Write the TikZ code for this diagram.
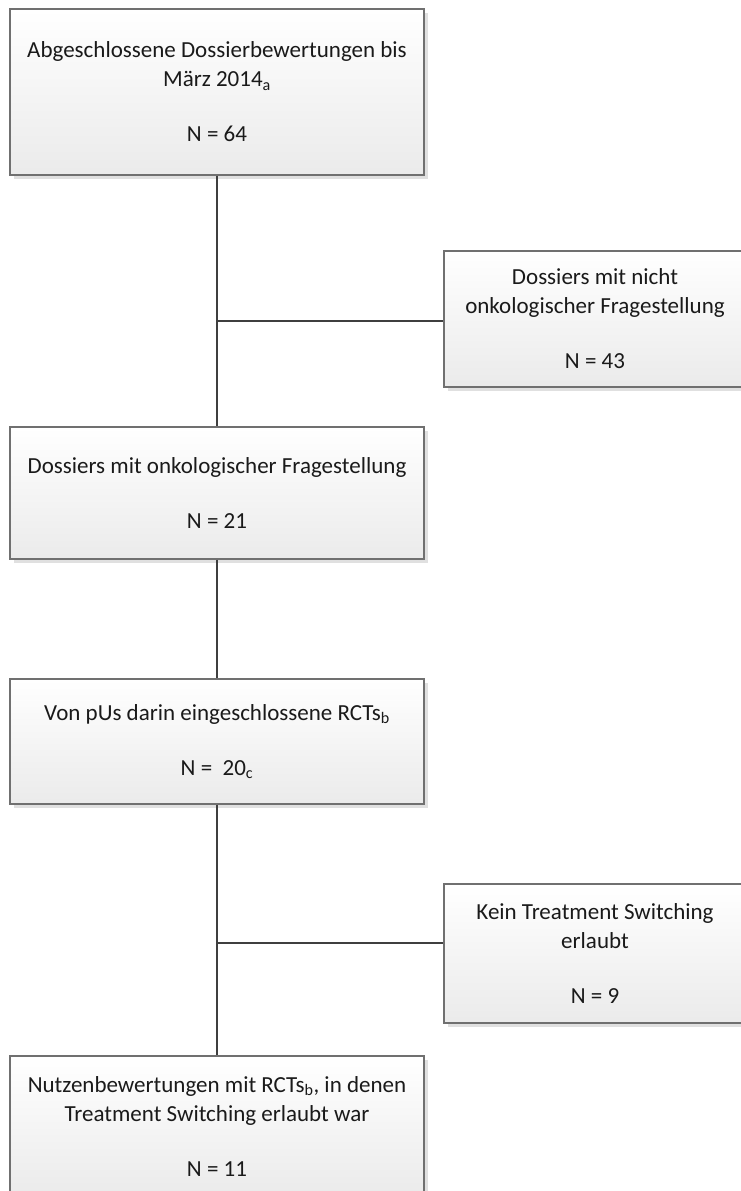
\documentclass[tikz,border=0pt]{standalone}
\usepackage{fontspec}
\setmainfont{Carlito}
\usetikzlibrary{shadows}
\definecolor{boxborder}{HTML}{707070}
\definecolor{linecol}{HTML}{3F3F3F}
\definecolor{txtcol}{HTML}{1A1A1A}
\tikzset{
  flowbox/.style={draw=boxborder, line width=1.3bp, top color=white, bottom color=black!8,
    drop shadow={shadow xshift=4bp, shadow yshift=-4bp, fill=black!12, opacity=1},
    align=center, inner sep=0pt, text=txtcol,
    font=\fontsize{23bp}{29bp}\selectfont},
  wide/.style={minimum width=414bp},
  side/.style={minimum width=302bp},
  conn/.style={draw=linecol, line width=2bp}
}
\begin{document}
\begin{tikzpicture}[x=1bp,y=-1bp]
\useasboundingbox (0,0) rectangle (741,1191);
\node[flowbox, wide, minimum height=166bp] (b1) at (217,92)
  {Abgeschlossene Dossierbewertungen bis\\März 2014\textsubscript{a}\\[26bp]N = 64};
\node[flowbox, side, minimum height=136bp] (b2) at (595,319)
  {Dossiers mit nicht\\onkologischer Fragestellung\\[26bp]N = 43};
\node[flowbox, wide, minimum height=132bp] (b3) at (217,493)
  {Dossiers mit onkologischer Fragestellung\\[26bp]N = 21};
\node[flowbox, wide, minimum height=125bp] (b4) at (217,741.5)
  {Von pUs darin eingeschlossene RCTs\textsubscript{b}\\[26bp]N = \ 20\textsubscript{c}};
\node[flowbox, side, minimum height=139bp] (b5) at (595,953.5)
  {Kein Treatment Switching\\erlaubt\\[26bp]N = 9};
\node[flowbox, wide, minimum height=140bp] (b6) at (217,1126)
  {Nutzenbewertungen mit RCTs\textsubscript{b}, in denen\\Treatment Switching erlaubt war\\[26bp]N = 11};
\draw[conn] (b1.south) -- (b3.north);
\draw[conn] (b3.south) -- (b4.north);
\draw[conn] (b4.south) -- (b6.north);
\coordinate (j1) at ([yshift=-2bp]b2.west -| b1.south);
\coordinate (k1) at ([yshift=-2bp]b2.west);
\coordinate (j2) at ([yshift=10.5bp]b5.west -| b4.south);
\coordinate (k2) at ([yshift=10.5bp]b5.west);
\draw[conn] (j1) -- (k1);
\draw[conn] (j2) -- (k2);
\end{tikzpicture}
\end{document}
